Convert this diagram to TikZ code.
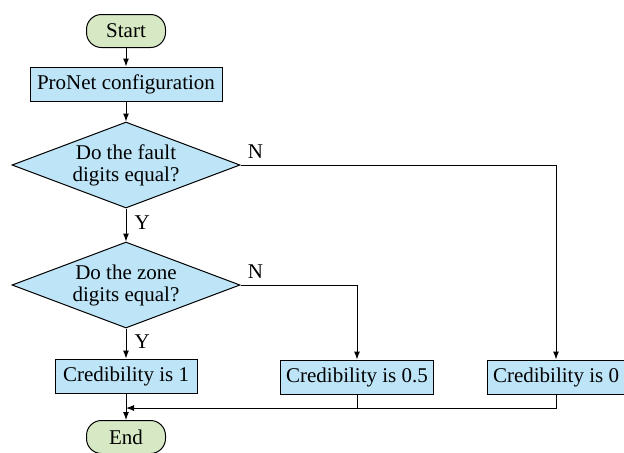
\documentclass[tikz,border=0pt]{standalone}
\usepackage{fontspec}
\setmainfont{Liberation Serif}
\usetikzlibrary{arrows.meta,shapes.geometric}
\definecolor{termfill}{HTML}{D6E8C4}
\definecolor{procfill}{HTML}{BDE4F7}

\begin{document}
\begin{tikzpicture}[x=0.5pt,y=-0.5pt,
    font=\fontsize{10.5}{11}\selectfont,
    terminal/.style={rectangle,draw,rounded corners=7.5pt,fill=termfill,minimum width=39.5pt,minimum height=16.5pt,line width=0.5pt},
    procbox/.style={rectangle,draw,fill=procfill,minimum height=17pt,inner xsep=3pt,line width=0.5pt},
    decision/.style={diamond,draw,fill=procfill,align=center,aspect=2.65,inner sep=-1pt,minimum width=114pt,minimum height=43pt,line width=0.5pt},
    arr/.style={-{Latex[length=4pt,width=3pt]},line width=0.5pt},
    lbl/.style={font=\fontsize{10.5}{12}\selectfont,inner sep=0pt},
]
\useasboundingbox (0,0) rectangle (624,452);

% Nodes
\node[terminal] (start) at (126,31) {Start};
\node[procbox,minimum width=96pt] (cfg) at (126,84) {ProNet configuration};
\node[decision] (fault) at (126,165) {Do the fault\\digits equal?};
\node[decision] (zone) at (126,285) {Do the zone\\digits equal?};
\node[procbox,minimum width=71pt] (cred1) at (126,376) {Credibility is 1};
\node[procbox] (credhalf) at (357,377) {Credibility is 0.5};
\node[procbox] (credzero) at (556,377) {Credibility is 0};
\node[terminal] (stop) at (126,437) {End};
\coordinate (merge) at (126,408);

% Arrows
\draw[arr] (start) -- (cfg);
\draw[arr] (cfg) -- (fault);
\draw[arr] (fault) -- (zone) node[lbl,midway,right,xshift=4pt,yshift=1pt] {Y};
\draw[arr] (zone) -- (cred1) node[lbl,midway,right,xshift=4pt,yshift=1pt] {Y};
\draw[arr] (fault.east) -| (credzero.north);
\draw[arr] (zone.east) -| (credhalf.north);
\node[lbl,anchor=south west,xshift=3.5pt,yshift=3pt] at (fault.east) {N};
\node[lbl,anchor=south west,xshift=3.5pt,yshift=3pt] at (zone.east) {N};
\draw[arr] (cred1) -- (stop);
\draw[arr] (credzero.south) |- (merge);
\draw[line width=0.5pt] (credhalf.south) -- (credhalf.south |- merge);
\end{tikzpicture}
\end{document}
